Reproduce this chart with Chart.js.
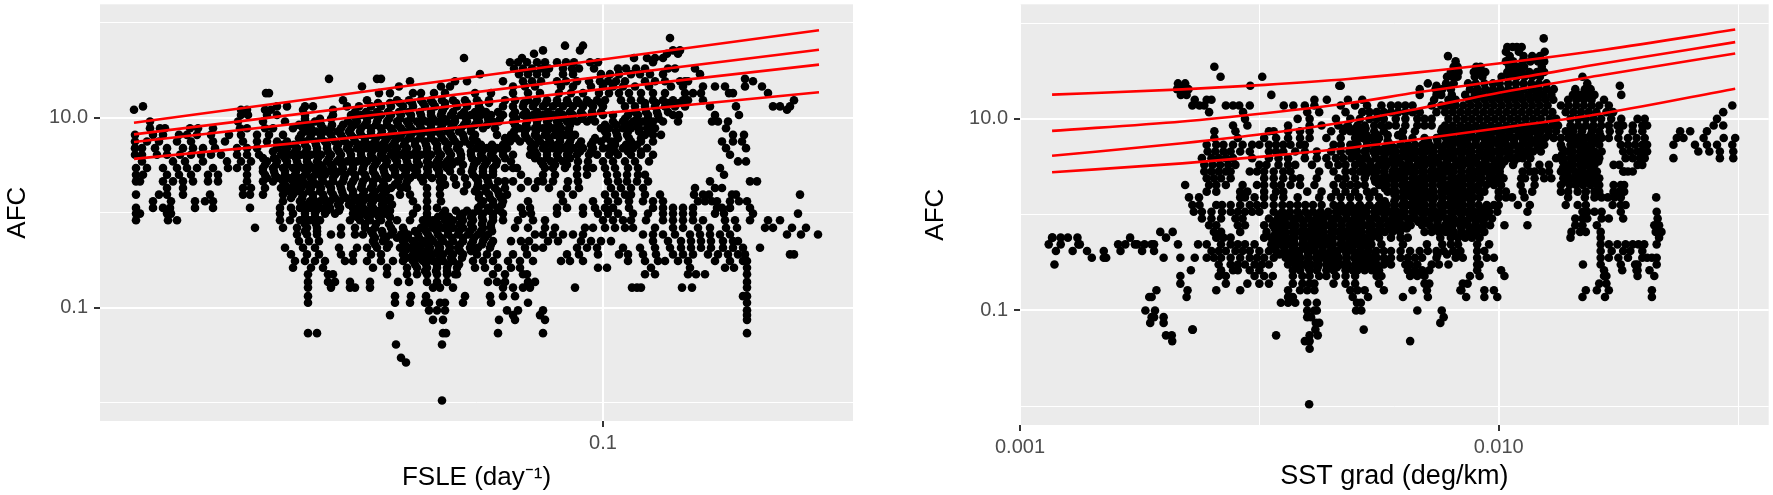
<!DOCTYPE html>
<html lang="en">
<head>
<meta charset="UTF-8">
<title>AFC vs FSLE and SST gradient</title>
<script src="https://cdn.jsdelivr.net/npm/chart.js"></script>
<style>
    body { margin: 0; background: #fff; overflow: hidden; }
    canvas { position: absolute; top: 0; }
    #fsleChart { left: 0; }
    #sstChart { left: 886px; }
</style>
</head>
<body>
<canvas id="fsleChart" width="886" height="495"></canvas>
<canvas id="sstChart" width="887" height="495"></canvas>
<script>
// values, kept as log10 because both axes are log
// each row: [log10 AFC, [log10 x, ...]]
const fsleRows = [
[1.84,[-.933]],[1.76,[-1.038,-1.020]],[1.71,[-1.060,-1.023,-.923,-.930]],[1.675,[-1.069,-.936,-.925]],
[1.63,[-1.139,-1.081,-.969,-.956,-.948,-.940]],
[1.585,[-1.093,-1.085,-1.076,-1.066,-1.058,-1.046,-1.037,-1.029,-1.013,-1.005,-.950]],
[1.52,[-1.089,-1.080,-1.071,-1.062,-1.054,-1.040,-1.031,-1.024,-1.009,-.985,-.977,-.967,-.958,-.935,-.928,-.908]],
[1.46,[-1.123,-1.084,-1.075,-1.066,-1.057,-1.040,-1.030,-1.002,-.993,-.984,-.972,-.963,-.953,-.940,-.903]],
[1.41,[-1.274,-1.226,-1.222,-.858]],
[1.385,[-1.148,-1.136,-1.100,-1.193,-1.080,-1.071,-1.062,-1.046,-1.037,-1.026,-1.014,-1.003,-.995,-.987,-.978,-.958,-.948,-.938,-.923,-.915,-.918,-.850]],
[1.33,[-1.241,-1.204,-1.162,-1.153,-1.090,-1.078,-1.068,-1.042,-1.030,-1.012,-1.000,-.990,-.980,-.968,-.954,-.932,-.920,-.900,-.888,-.878,-.858,-.841]],
[1.26,[-1.337,-1.334,-1.213,-1.224,-1.190,-1.182,-1.169,-1.158,-1.128,-1.112,-1.090,-1.075,-1.063,-1.044,-1.032,-1.020,-1.004,-.994,-.984,-.974,-.962,-.950,-.938,-.918,-.910,-.902,-.870,-.874,-.835]],
[1.185,[-1.260,-1.236,-1.206,-1.194,-1.182,-1.172,-1.161,-1.150,-1.138,-1.126,-1.114,-1.098,-1.088,-1.075,-1.066,-1.056,-1.046,-1.036,-1.026,-1.016,-1.006,-.998,-.982,-.972,-.962,-.950,-.940,-.930,-.920,-.915,-.900,-.809]],
[1.12,[-1.460,-1.326,-1.316,-1.298,-1.290,-1.256,-1.244,-1.232,-1.222,-1.212,-1.200,-1.190,-1.178,-1.168,-1.158,-1.146,-1.136,-1.124,-1.100,-1.090,-1.080,-1.070,-1.060,-1.050,-1.040,-1.030,-1.020,-1.010,-1.000,-.978,-.968,-.958,-.948,-.938,-.928,-.918,-.893,-.867,-.830,-.823,-.813]],
[1.085,[-1.469,-1.362,-1.356,-1.338,-1.332,-1.300,-1.270,-1.160,-1.122,-.816]],
[1.03,[-1.362,-1.355,-1.336,-1.326,-1.298,-1.270,-1.252,-1.242,-1.232,-1.222,-1.212,-1.202,-1.192,-1.182,-1.172,-1.162,-1.152,-1.142,-1.132,-1.122,-1.112,-1.100,-1.090,-1.080,-1.070,-1.060,-1.050,-1.040,-1.030,-1.020,-1.010,-1.000,-.990,-.975,-.965,-.955,-.945,-.930,-.924,-.864,-.888]],
[.96,[-1.453,-1.365,-1.340,-1.318,-1.298,-1.288,-1.255,-1.246,-1.236,-1.226,-1.216,-1.206,-1.196,-1.186,-1.176,-1.166,-1.156,-1.148,-1.136,-1.124,-1.110,-1.104,-1.090,-1.076,-1.066,-1.056,-1.046,-1.036,-1.026,-1.016,-1.008,-.990,-.980,-.970,-.960,-.950,-.940,-.925,-.891,-.885,-.875]],
[.89,[-1.453,-1.443,-1.438,-1.413,-1.405,-1.390,-1.363,-1.356,-1.338,-1.330,-1.310,-1.300,-1.292,-1.280,-1.272,-1.262,-1.252,-1.242,-1.232,-1.222,-1.212,-1.202,-1.192,-1.182,-1.172,-1.162,-1.152,-1.142,-1.132,-1.120,-1.108,-1.084,-1.076,-1.068,-1.060,-1.050,-1.042,-1.034,-1.002,-.994,-.980,-.972,-.964,-.956,-.948,-.877]],
[.82,[-1.468,-1.450,-1.440,-1.424,-1.416,-1.406,-1.392,-1.374,-1.362,-1.346,-1.334,-1.320,-1.302,-1.292,-1.282,-1.272,-1.262,-1.252,-1.242,-1.232,-1.222,-1.212,-1.202,-1.192,-1.182,-1.172,-1.162,-1.152,-1.140,-1.128,-1.106,-1.092,-1.078,-1.068,-1.058,-1.048,-1.038,-1.028,-.996,-.986,-.976,-.958,-.950,-.942,-.859,-.870]],
[.75,[-1.468,-1.456,-1.444,-1.426,-1.412,-1.390,-1.378,-1.360,-1.346,-1.336,-1.326,-1.316,-1.298,-1.288,-1.278,-1.268,-1.258,-1.248,-1.238,-1.228,-1.218,-1.208,-1.198,-1.188,-1.178,-1.168,-1.158,-1.148,-1.138,-1.126,-1.093,-1.083,-1.073,-1.063,-1.053,-1.043,-1.033,-1.022,-1.010,-1.002,-.992,-.988,-.972,-.962,-.950,-.881,-.870,-.861]],
[.68,[-1.468,-1.461,-1.448,-1.436,-1.420,-1.410,-1.400,-1.388,-1.366,-1.356,-1.346,-1.326,-1.316,-1.306,-1.296,-1.286,-1.276,-1.266,-1.256,-1.246,-1.236,-1.226,-1.216,-1.206,-1.196,-1.186,-1.176,-1.166,-1.156,-1.146,-1.126,-1.116,-1.106,-1.096,-1.072,-1.060,-1.050,-1.040,-1.030,-1.020,-1.010,-1.000,-.994,-.980,-.970,-.956,-.877,-.857]],
[.61,[-1.468,-1.461,-1.446,-1.436,-1.423,-1.412,-1.402,-1.392,-1.382,-1.366,-1.356,-1.344,-1.322,-1.312,-1.302,-1.292,-1.282,-1.272,-1.262,-1.252,-1.242,-1.232,-1.222,-1.212,-1.202,-1.192,-1.182,-1.172,-1.162,-1.152,-1.142,-1.132,-1.122,-1.112,-1.100,-1.090,-1.073,-1.066,-1.056,-1.046,-1.036,-1.026,-1.014,-1.006,-.994,-.985,-.972,-.962,-.950,-.873]],
[.54,[-1.461,-1.430,-1.418,-1.400,-1.376,-1.362,-1.352,-1.336,-1.326,-1.316,-1.306,-1.296,-1.286,-1.276,-1.266,-1.256,-1.246,-1.236,-1.226,-1.216,-1.206,-1.196,-1.186,-1.176,-1.166,-1.156,-1.146,-1.126,-1.116,-1.106,-1.092,-1.062,-1.052,-1.040,-1.025,-1.015,-1.000,-.990,-.978,-.968,-.954,-.865,-.857]],
[.47,[-1.467,-1.456,-1.440,-1.426,-1.416,-1.406,-1.390,-1.375,-1.366,-1.356,-1.340,-1.330,-1.320,-1.310,-1.300,-1.290,-1.280,-1.270,-1.260,-1.250,-1.240,-1.230,-1.220,-1.210,-1.200,-1.190,-1.176,-1.166,-1.156,-1.130,-1.120,-1.110,-1.098,-1.090,-1.086,-1.058,-1.050,-1.038,-1.026,-1.016,-1.010,-.998,-.988,-.975,-.965,-.883]],
[.40,[-1.467,-1.460,-1.436,-1.424,-1.412,-1.395,-1.385,-1.356,-1.338,-1.328,-1.318,-1.308,-1.298,-1.288,-1.278,-1.268,-1.258,-1.248,-1.238,-1.228,-1.218,-1.208,-1.198,-1.188,-1.176,-1.164,-1.130,-1.120,-1.110,-1.082,-1.060,-1.048,-1.026,-1.016,-.996,-.986,-.976,-.965,-.958,-.879]],
[.33,[-1.467,-1.463,-1.440,-1.430,-1.420,-1.410,-1.395,-1.385,-1.356,-1.340,-1.330,-1.320,-1.310,-1.300,-1.290,-1.280,-1.270,-1.260,-1.250,-1.240,-1.230,-1.220,-1.205,-1.196,-1.180,-1.163,-1.125,-1.115,-1.105,-1.098,-1.090,-1.075,-1.065,-1.060,-1.050,-1.035,-1.025,-.995,-.985,-.976,-.966,-.955,-.853,-.846,-.893]],
[.26,[-1.436,-1.420,-1.360,-1.352,-1.338,-1.322,-1.312,-1.302,-1.292,-1.282,-1.272,-1.262,-1.252,-1.242,-1.232,-1.222,-1.212,-1.202,-1.196,-1.176,-1.163,-1.126,-1.118,-1.108,-1.098,-1.082,-1.068,-1.054,-1.036,-1.024,-.992,-.982,-.972,-.960,-.908,-.888,-.881]],
[.19,[-1.467,-1.444,-1.436,-1.420,-1.393,-1.360,-1.353,-1.340,-1.320,-1.310,-1.300,-1.290,-1.280,-1.270,-1.260,-1.250,-1.240,-1.230,-1.220,-1.203,-1.193,-1.176,-1.163,-1.124,-1.114,-1.104,-1.096,-1.042,-1.030,-.998,-.988,-.978,-.972,-.958,-.943,-.900,-.909,-.871,-.867,-.803,-.894]],
[.12,[-1.450,-1.432,-1.408,-1.398,-1.390,-1.320,-1.303,-1.293,-1.283,-1.273,-1.263,-1.250,-1.240,-1.230,-1.218,-1.190,-1.176,-1.162,-1.120,-1.110,-1.100,-1.075,-1.040,-1.010,-.995,-.985,-.974,-.960,-.950,-.940,-.905,-.891,-.873,-.864,-.856,-.898,-.886]],
[.05,[-1.467,-1.450,-1.440,-1.433,-1.408,-1.390,-1.353,-1.323,-1.312,-1.303,-1.293,-1.283,-1.273,-1.263,-1.250,-1.240,-1.230,-1.218,-1.186,-1.176,-1.166,-1.125,-1.115,-1.105,-1.082,-1.073,-1.046,-1.036,-1.020,-1.008,-.998,-.990,-.974,-.950,-.940,-.930,-.920,-.910,-.886,-.881,-.873,-.853]],
[-.01,[-1.467,-1.463,-1.436,-1.432,-1.323,-1.310,-1.298,-1.288,-1.278,-1.268,-1.250,-1.240,-1.230,-1.218,-1.190,-1.176,-1.160,-1.140,-1.130,-1.120,-1.110,-1.100,-1.080,-1.072,-1.046,-1.020,-1.005,-.995,-.985,-.970,-.955,-.940,-.930,-.920,-.910,-.888,-.879,-.850,-.805]],
[-.08,[-1.467,-1.435,-1.426,-1.323,-1.313,-1.303,-1.293,-1.283,-1.253,-1.243,-1.233,-1.222,-1.206,-1.193,-1.180,-1.170,-1.158,-1.150,-1.140,-1.130,-1.120,-1.110,-1.100,-1.085,-1.070,-1.058,-1.000,-.990,-.980,-.972,-.957,-.940,-.930,-.920,-.910,-.900,-.878,-.868,-.853,-.835,-.823]],
[-.16,[-1.348,-1.320,-1.306,-1.296,-1.286,-1.262,-1.248,-1.238,-1.228,-1.212,-1.200,-1.182,-1.170,-1.160,-1.150,-1.140,-1.130,-1.120,-1.112,-1.088,-1.075,-1.058,-1.048,-1.018,-1.010,-.998,-.988,-.978,-.970,-.948,-.930,-.920,-.905,-.893,-.877,-.866,-.838,-.830,-.811,-.797]],
[-.23,[-1.306,-1.296,-1.286,-1.272,-1.262,-1.248,-1.240,-1.230,-1.220,-1.212,-1.202,-1.195,-1.185,-1.175,-1.165,-1.155,-1.145,-1.135,-1.125,-1.115,-1.068,-1.060,-1.050,-1.040,-1.030,-1.020,-.960,-.950,-.940,-.928,-.913,-.903,-.893,-.883,-.873,-.816,-.802,-.785]],
[-.30,[-1.304,-1.294,-1.284,-1.230,-1.220,-1.200,-1.190,-1.180,-1.170,-1.160,-1.150,-1.140,-1.130,-1.120,-1.110,-1.092,-1.082,-1.074,-1.055,-1.045,-1.022,-1.012,-1.002,-.992,-.950,-.935,-.922,-.912,-.902,-.892,-.880,-.870,-.865]],
[-.37,[-1.318,-1.300,-1.288,-1.264,-1.246,-1.236,-1.226,-1.216,-1.203,-1.193,-1.183,-1.173,-1.163,-1.153,-1.145,-1.133,-1.125,-1.113,-1.078,-1.068,-1.060,-1.026,-1.016,-1.006,-.980,-.963,-.948,-.933,-.922,-.912,-.902,-.892,-.880,-.870,-.860,-.843]],
[-.44,[-1.312,-1.296,-1.284,-1.262,-1.250,-1.232,-1.222,-1.200,-1.190,-1.180,-1.170,-1.160,-1.150,-1.140,-1.126,-1.116,-1.106,-1.090,-1.076,-1.036,-1.024,-1.005,-.984,-.975,-.960,-.947,-.930,-.920,-.910,-.895,-.885,-.875,-.865,-.813,-.809,-.858]],
[-.51,[-1.308,-1.298,-1.288,-1.278,-1.258,-1.250,-1.236,-1.222,-1.210,-1.200,-1.190,-1.180,-1.170,-1.160,-1.150,-1.130,-1.120,-1.110,-1.095,-1.083,-1.070,-1.042,-1.033,-1.020,-.975,-.958,-.945,-.938,-.925,-.915,-.888,-.873,-.860,-.856]],
[-.58,[-1.310,-1.292,-1.280,-1.230,-1.216,-1.196,-1.186,-1.176,-1.166,-1.156,-1.146,-1.128,-1.118,-1.105,-1.092,-1.083,-1.005,-.996,-.952,-.913,-.878,-.869,-.856]],
[-.65,[-1.295,-1.275,-1.270,-1.216,-1.196,-1.186,-1.176,-1.166,-1.156,-1.146,-1.148,-1.110,-1.098,-1.080,-1.076,-.958,-.948,-.915,-.898,-.856,-.907]],
[-.73,[-1.295,-1.275,-1.268,-1.253,-1.233,-1.205,-1.194,-1.176,-1.166,-1.156,-1.115,-1.106,-1.098,-1.075,-1.068,-.856]],
[-.79,[-1.295,-1.272,-1.253,-1.248,-1.233,-1.170,-1.163,-1.150,-1.100,-1.090,-1.080,-1.073,-1.028,-.966,-.962,-.971,-.921,-.911,-.856]],
[-.88,[-1.295,-1.208,-1.192,-1.177,-1.138,-1.113,-1.100,-1.088,-.856,-.860]],
[-.95,[-1.295,-1.208,-1.193,-1.178,-1.174,-1.163,-1.158,-1.140,-1.112,-1.075,-.856]],
[-1.03,[-1.174,-1.166,-1.158,-1.096,-1.085,-1.060,-.856]],
[-1.08,[-1.213,-1.090,-1.063,-.856]],
[-1.13,[-1.170,-1.160,-1.104,-1.088,-.856,-1.058]],
[-1.27,[-1.295,-1.286,-1.160,-1.157,-1.105,-1.060,-.856]],
[-1.39,[-1.207,-1.161]],[-1.53,[-1.202]],[-1.58,[-1.197]],[-1.98,[-1.161]],
// denser middle of the cloud
[1.155,[-1.225,-1.213,-1.203,-1.191,-1.180,-1.170,-1.158,-1.147,-1.136,-1.124,-1.114,-1.079,-1.068,-1.057,-1.046,-1.035,-1.024,-1.013,-1.002,-.958,-.947,-.935,-.924]],
[1.06,[-1.248,-1.237,-1.226,-1.215,-1.204,-1.194,-1.183,-1.172,-1.161,-1.150,-1.139,-1.128,-1.117,-1.105,-1.088,-1.077,-1.066,-1.055,-1.044,-1.033,-1.022,-1.011,-1.002,-.968,-.957,-.946,-.935]],
[.99,[-1.298,-1.283,-1.272,-1.247,-1.236,-1.225,-1.214,-1.203,-1.192,-1.181,-1.170,-1.159,-1.148,-1.137,-1.126,-1.115,-1.103,-1.087,-1.076,-1.065,-1.054,-1.043,-1.032,-1.021,-1.012,-.978,-.966,-.955,-.944]],
[.925,[-1.304,-1.293,-1.282,-1.271,-1.260,-1.249,-1.238,-1.227,-1.216,-1.205,-1.194,-1.183,-1.172,-1.161,-1.150,-1.139,-1.128,-1.116,-1.088,-1.077,-1.066,-1.055,-1.044,-1.033,-.998,-.987,-.976,-.965,-.954]],
[.855,[-1.298,-1.287,-1.276,-1.265,-1.254,-1.243,-1.232,-1.221,-1.210,-1.199,-1.188,-1.177,-1.166,-1.155,-1.144,-1.132,-1.089,-1.078,-1.067,-1.056,-1.045,-1.034,-.998,-.987,-.975,-.964,-.952]],
[.785,[-1.304,-1.293,-1.282,-1.271,-1.260,-1.249,-1.238,-1.227,-1.216,-1.205,-1.194,-1.183,-1.172,-1.161,-1.150,-1.139,-1.130,-1.098,-1.087,-1.076,-1.065,-1.054,-1.043,-1.032,-1.008,-.997,-.985,-.974,-.962]],
[.715,[-1.320,-1.309,-1.298,-1.287,-1.276,-1.265,-1.254,-1.243,-1.232,-1.221,-1.210,-1.199,-1.188,-1.177,-1.166,-1.155,-1.144,-1.133,-1.122,-1.111,-1.100,-1.068,-1.057,-1.046,-1.035,-1.024,-1.012,-.988,-.977,-.966]],
[.645,[-1.330,-1.319,-1.308,-1.297,-1.286,-1.275,-1.264,-1.253,-1.242,-1.231,-1.220,-1.209,-1.198,-1.187,-1.176,-1.165,-1.154,-1.143,-1.132,-1.121,-1.110,-1.100,-1.068,-1.056,-1.045,-1.034,-1.023,-1.012,-.988,-.975,-.962]],
[.575,[-1.340,-1.329,-1.318,-1.307,-1.296,-1.285,-1.274,-1.263,-1.252,-1.241,-1.230,-1.219,-1.208,-1.197,-1.186,-1.175,-1.164,-1.153,-1.142,-1.131,-1.120,-1.109,-1.098,-1.068,-1.056,-1.045,-1.033]],
[.505,[-1.338,-1.327,-1.316,-1.305,-1.294,-1.283,-1.272,-1.261,-1.250,-1.239,-1.228,-1.217,-1.206,-1.195,-1.184,-1.173,-1.162,-1.151,-1.140,-1.129,-1.118,-1.107,-1.060,-1.048,-1.036]],
[.435,[-1.340,-1.329,-1.318,-1.307,-1.296,-1.285,-1.274,-1.263,-1.252,-1.241,-1.230,-1.219,-1.208,-1.197,-1.186,-1.175,-1.164,-1.153,-1.142,-1.131,-1.120,-1.110]],
[.365,[-1.336,-1.325,-1.314,-1.303,-1.292,-1.281,-1.270,-1.259,-1.248,-1.237,-1.226,-1.215,-1.204,-1.193,-1.182,-1.171,-1.160,-1.149,-1.138,-1.127,-1.116]],
[.295,[-1.318,-1.307,-1.296,-1.285,-1.274,-1.263,-1.252,-1.241,-1.230,-1.219,-1.208,-1.197,-1.158,-1.147,-1.136,-1.125,-1.114]],
[.225,[-1.316,-1.305,-1.294,-1.283,-1.272,-1.261,-1.250,-1.239,-1.228,-1.217,-1.139,-1.128,-1.117,-1.105]],
[.155,[-1.312,-1.301,-1.290,-1.279,-1.268,-1.257,-1.246,-1.235,-1.224,-1.213,-1.124,-1.113,-1.102]],
[.085,[-1.298,-1.287,-1.276,-1.265,-1.254,-1.243,-1.232,-1.221,-1.211,-1.122,-1.110,-1.101]],
[.02,[-1.298,-1.287,-1.276,-1.264,-1.246,-1.235,-1.224,-1.213,-1.158,-1.147,-1.136,-1.125,-1.114,-1.103]],
[-.045,[-1.298,-1.288,-1.246,-1.235,-1.224,-1.213,-1.176,-1.165,-1.154,-1.143,-1.132,-1.121,-1.110]],
[-.12,[-1.298,-1.287,-1.238,-1.227,-1.214,-1.176,-1.165,-1.154,-1.143,-1.132,-1.121,-1.112]],
[-.195,[-1.298,-1.286,-1.232,-1.221,-1.210,-1.199,-1.188,-1.177,-1.166,-1.155,-1.144,-1.133,-1.122,-1.111]],
[-.265,[-1.228,-1.217,-1.206,-1.195,-1.184,-1.173,-1.162,-1.151,-1.140,-1.129,-1.118]],
[-.335,[-1.228,-1.214,-1.198,-1.187,-1.176,-1.165,-1.154,-1.143,-1.132,-1.121,-1.112]],
[-.405,[-1.198,-1.187,-1.176,-1.165,-1.154,-1.143,-1.132]],
[-.475,[-1.196,-1.185,-1.174,-1.163,-1.152,-1.141]],
[-.545,[-1.188,-1.177,-1.166,-1.155,-1.144]],
[-.615,[-1.178,-1.167,-1.156]]
];

const sstRows = [
[1.84,[-1.906]],[1.75,[-1.971,-1.982,-1.962,-1.952]],[1.70,[-1.904,-1.985,-1.958]],[1.655,[-2.106,-1.977,-1.948,-1.930,-1.914]],
[1.60,[-2.090,-1.985,-1.970,-1.950,-1.934,-1.918,-1.905]],
[1.544,[-2.594,-2.047,-2.038,-2.094,-2.086,-1.978,-1.962,-1.947,-1.910]],
[1.49,[-2.100,-2.084,-2.052,-2.042,-2.028,-1.982,-1.968,-1.952,-1.936,-1.920,-1.905]],
[1.44,[-2.581,-2.494,-2.108,-2.096,-2.086,-2.050,-2.034,-1.994,-1.978,-1.962,-1.946,-1.930,-1.914,-1.825]],
[1.37,[-2.670,-2.655,-2.148,-2.110,-2.094,-2.064,-2.048,-2.030,-2.012,-1.998,-1.980,-1.964,-1.948,-1.932,-1.916,-1.900,-1.815]],
[1.345,[-2.519,-2.333,-2.330,-2.130,-1.747]],
[1.31,[-2.672,-2.660,-2.648,-2.165,-2.132,-2.118,-2.100,-2.060,-2.044,-2.028,-2.012,-1.996,-1.980,-1.964,-1.948,-1.932,-1.916,-1.900,-1.885,-1.840,-1.820,-1.808]],
[1.25,[-2.664,-2.652,-2.475,-2.165,-2.130,-2.120,-2.098,-2.070,-2.050,-2.035,-2.018,-2.002,-1.986,-1.970,-1.954,-1.938,-1.922,-1.906,-1.890,-1.845,-1.830,-1.815,-1.800,-1.744]],
[1.20,[-2.635,-2.610,-2.600,-2.385,-2.359,-2.315,-2.285,-2.135,-2.105,-2.090,-2.062,-2.046,-2.030,-2.014,-1.998,-1.982,-1.966,-1.950,-1.934,-1.918,-1.902,-1.886,-1.855,-1.838,-1.822,-1.806,-1.780]],
[1.14,[-2.640,-2.625,-2.615,-2.570,-2.555,-2.542,-2.520,-2.449,-2.429,-2.405,-2.385,-2.330,-2.300,-2.275,-2.245,-2.225,-2.210,-2.195,-2.180,-2.140,-2.120,-2.105,-2.090,-2.074,-2.058,-2.042,-2.026,-2.010,-1.994,-1.978,-1.962,-1.946,-1.930,-1.914,-1.898,-1.870,-1.854,-1.838,-1.822,-1.806,-1.790,-1.770,-1.512]],
[1.07,[-2.605,-2.534,-2.400,-2.375,-2.320,-2.285,-2.270,-2.255,-2.240,-2.225,-2.210,-2.195,-2.180,-2.165,-2.130,-2.112,-2.096,-2.080,-2.064,-2.048,-2.032,-2.016,-2.000,-1.984,-1.968,-1.952,-1.936,-1.920,-1.904,-1.888,-1.860,-1.844,-1.828,-1.812,-1.796,-1.775,-1.761,-1.531]],
[1.00,[-2.530,-2.420,-2.395,-2.340,-2.310,-2.290,-2.270,-2.255,-2.240,-2.215,-2.195,-2.170,-2.155,-2.140,-2.105,-2.088,-2.072,-2.056,-2.040,-2.024,-2.008,-1.992,-1.976,-1.960,-1.944,-1.928,-1.912,-1.894,-1.880,-1.850,-1.834,-1.818,-1.802,-1.786,-1.765,-1.744,-1.710,-1.695,-1.544]],
[.93,[-2.555,-2.525,-2.440,-2.395,-2.370,-2.335,-2.315,-2.295,-2.280,-2.260,-2.245,-2.230,-2.215,-2.195,-2.170,-2.155,-2.140,-2.112,-2.096,-2.080,-2.064,-2.048,-2.032,-2.016,-2.000,-1.984,-1.968,-1.952,-1.936,-1.920,-1.904,-1.888,-1.876,-1.850,-1.834,-1.818,-1.802,-1.786,-1.770,-1.752,-1.740,-1.720,-1.700,-1.690,-1.551,-1.531]],
[.87,[-2.594,-2.550,-2.480,-2.470,-2.440,-2.415,-2.395,-2.350,-2.325,-2.310,-2.296,-2.285,-2.260,-2.240,-2.200,-2.175,-2.120,-2.104,-2.088,-2.072,-2.056,-2.040,-2.024,-2.008,-1.992,-1.976,-1.960,-1.944,-1.928,-1.912,-1.896,-1.880,-1.860,-1.844,-1.826,-1.805,-1.790,-1.768,-1.748,-1.720,-1.700,-1.621,-1.600,-1.565]],
[.80,[-2.594,-2.545,-2.490,-2.465,-2.440,-2.415,-2.395,-2.360,-2.330,-2.300,-2.285,-2.265,-2.250,-2.200,-2.180,-2.155,-2.130,-2.110,-2.095,-2.079,-2.063,-2.047,-2.031,-2.015,-1.999,-1.983,-1.967,-1.951,-1.935,-1.919,-1.903,-1.885,-1.870,-1.855,-1.835,-1.818,-1.800,-1.785,-1.770,-1.750,-1.730,-1.712,-1.695,-1.628,-1.614,-1.572,-1.506,-1.530]],
[.73,[-2.610,-2.590,-2.575,-2.555,-2.535,-2.515,-2.500,-2.480,-2.465,-2.450,-2.435,-2.415,-2.405,-2.345,-2.330,-2.310,-2.295,-2.275,-2.260,-2.225,-2.205,-2.190,-2.175,-2.160,-2.145,-2.128,-2.112,-2.096,-2.080,-2.064,-2.048,-2.032,-2.016,-2.000,-1.984,-1.968,-1.952,-1.936,-1.920,-1.905,-1.870,-1.850,-1.835,-1.820,-1.805,-1.790,-1.745,-1.730,-1.715,-1.700,-1.690,-1.635,-1.590,-1.565,-1.544,-1.512]],
[.66,[-2.608,-2.592,-2.575,-2.560,-2.540,-2.520,-2.480,-2.465,-2.450,-2.425,-2.405,-2.380,-2.350,-2.330,-2.312,-2.296,-2.280,-2.262,-2.245,-2.230,-2.215,-2.200,-2.184,-2.168,-2.152,-2.136,-2.120,-2.104,-2.088,-2.072,-2.056,-2.040,-2.024,-2.008,-1.992,-1.976,-1.960,-1.944,-1.928,-1.912,-1.860,-1.845,-1.830,-1.815,-1.800,-1.785,-1.740,-1.725,-1.710,-1.700,-1.690,-1.583,-1.560,-1.538,-1.510]],
[.59,[-2.620,-2.600,-2.585,-2.570,-2.555,-2.515,-2.480,-2.460,-2.440,-2.405,-2.380,-2.360,-2.340,-2.325,-2.308,-2.292,-2.276,-2.256,-2.240,-2.222,-2.206,-2.190,-2.174,-2.158,-2.142,-2.126,-2.110,-2.094,-2.078,-2.062,-2.046,-2.030,-2.014,-1.998,-1.982,-1.966,-1.950,-1.934,-1.960,-1.880,-1.865,-1.850,-1.835,-1.820,-1.805,-1.790,-1.735,-1.720,-1.705,-1.695,-1.635,-1.538,-1.510]],
[.52,[-2.615,-2.598,-2.582,-2.565,-2.550,-2.500,-2.485,-2.460,-2.440,-2.425,-2.390,-2.355,-2.335,-2.320,-2.300,-2.285,-2.268,-2.250,-2.234,-2.218,-2.202,-2.186,-2.170,-2.154,-2.138,-2.122,-2.106,-2.090,-2.074,-2.058,-2.042,-2.026,-2.010,-1.994,-1.970,-1.940,-1.915,-1.895,-1.860,-1.845,-1.830,-1.815,-1.800,-1.760,-1.748,-1.710,-1.700]],
[.45,[-2.615,-2.600,-2.585,-2.570,-2.560,-2.520,-2.505,-2.490,-2.470,-2.450,-2.435,-2.375,-2.345,-2.320,-2.305,-2.290,-2.270,-2.255,-2.240,-2.222,-2.206,-2.190,-2.174,-2.158,-2.142,-2.126,-2.110,-2.094,-2.078,-2.062,-2.046,-2.030,-2.012,-1.998,-1.950,-1.935,-1.925,-1.910,-1.895,-1.870,-1.855,-1.840,-1.825,-1.810,-1.795,-1.740,-1.730,-1.720,-1.738]],
[.38,[-2.610,-2.595,-2.580,-2.560,-2.490,-2.470,-2.450,-2.430,-2.415,-2.380,-2.335,-2.320,-2.300,-2.280,-2.260,-2.244,-2.228,-2.212,-2.196,-2.180,-2.164,-2.148,-2.132,-2.116,-2.100,-2.084,-2.068,-2.052,-2.036,-2.020,-2.004,-1.990,-1.953,-1.945,-1.925,-1.905,-1.890,-1.865,-1.848,-1.832,-1.816,-1.800,-1.790]],
[.31,[-2.655,-2.605,-2.590,-2.570,-2.535,-2.505,-2.490,-2.470,-2.455,-2.435,-2.415,-2.385,-2.345,-2.325,-2.310,-2.295,-2.280,-2.250,-2.234,-2.218,-2.202,-2.186,-2.170,-2.154,-2.138,-2.122,-2.106,-2.090,-2.074,-2.058,-2.042,-2.026,-2.010,-1.995,-1.954,-1.925,-1.870,-1.852,-1.838,-1.824,-1.808,-1.794,-1.790,-1.760,-1.745,-1.738]],
[.24,[-2.610,-2.590,-2.540,-2.525,-2.490,-2.465,-2.450,-2.400,-2.370,-2.340,-2.320,-2.300,-2.275,-2.260,-2.232,-2.216,-2.200,-2.184,-2.168,-2.152,-2.136,-2.120,-2.104,-2.088,-2.072,-2.056,-2.040,-2.030,-2.000,-1.985,-1.950,-1.930,-1.870,-1.855,-1.835,-1.818,-1.800,-1.790,-1.760,-1.748,-1.738]],
[.18,[-2.647,-2.626,-2.540,-2.530,-2.510,-2.490,-2.470,-2.450,-2.420,-2.375,-2.350,-2.330,-2.310,-2.292,-2.270,-2.250,-2.214,-2.198,-2.182,-2.166,-2.150,-2.134,-2.118,-2.102,-2.086,-2.070,-2.054,-2.040,-2.000,-1.985,-1.972,-1.946,-1.855,-1.820,-1.800,-1.785,-1.772,-1.758,-1.745,-1.671]],
[.10,[-2.640,-2.625,-2.590,-2.578,-2.560,-2.540,-2.520,-2.505,-2.490,-2.470,-2.452,-2.436,-2.420,-2.404,-2.388,-2.370,-2.345,-2.330,-2.310,-2.290,-2.270,-2.250,-2.234,-2.218,-2.202,-2.186,-2.170,-2.154,-2.138,-2.122,-2.106,-2.090,-2.074,-2.058,-2.042,-2.025,-2.010,-2.000,-1.960,-1.935,-1.860,-1.835,-1.818,-1.762,-1.745,-1.735]],
[.03,[-2.637,-2.620,-2.600,-2.578,-2.560,-2.545,-2.530,-2.515,-2.500,-2.470,-2.452,-2.436,-2.420,-2.404,-2.388,-2.372,-2.356,-2.340,-2.324,-2.308,-2.292,-2.276,-2.260,-2.244,-2.228,-2.212,-2.196,-2.180,-2.164,-2.148,-2.132,-2.116,-2.100,-2.084,-2.068,-2.052,-2.036,-2.020,-2.003,-1.940,-1.825,-1.815,-1.800,-1.785,-1.745,-1.670]],
[-.04,[-2.620,-2.600,-2.580,-2.550,-2.535,-2.480,-2.462,-2.446,-2.430,-2.414,-2.398,-2.382,-2.366,-2.350,-2.334,-2.318,-2.302,-2.286,-2.270,-2.254,-2.238,-2.222,-2.206,-2.190,-2.174,-2.158,-2.142,-2.126,-2.110,-2.094,-2.078,-2.062,-2.046,-2.030,-2.014,-1.840,-1.825,-1.815,-1.785,-1.770,-1.740,-1.668]],
[-.11,[-2.605,-2.590,-2.545,-2.530,-2.490,-2.472,-2.456,-2.440,-2.424,-2.408,-2.392,-2.376,-2.360,-2.344,-2.328,-2.312,-2.296,-2.280,-2.264,-2.248,-2.232,-2.216,-2.200,-2.184,-2.160,-2.144,-2.128,-2.112,-2.096,-2.080,-2.064,-2.048,-2.032,-2.018,-1.988,-1.940,-1.840,-1.825,-1.795,-1.675,-1.665]],
[-.18,[-2.681,-2.707,-2.595,-2.580,-2.540,-2.485,-2.462,-2.446,-2.430,-2.414,-2.398,-2.382,-2.366,-2.350,-2.334,-2.318,-2.302,-2.286,-2.270,-2.254,-2.238,-2.222,-2.206,-2.155,-2.140,-2.125,-2.110,-2.094,-2.078,-2.062,-2.046,-2.030,-1.848,-1.830,-1.818,-1.787,-1.672,-1.660]],
[-.24,[-2.933,-2.932,-2.915,-2.900,-2.880,-2.770,-2.695,-2.590,-2.575,-2.560,-2.490,-2.475,-2.458,-2.442,-2.426,-2.410,-2.394,-2.378,-2.362,-2.346,-2.330,-2.314,-2.298,-2.282,-2.266,-2.250,-2.225,-2.205,-2.190,-2.122,-2.100,-2.085,-2.070,-2.056,-2.040,-1.850,-1.787,-1.665]],
[-.31,[-2.940,-2.915,-2.878,-2.875,-2.795,-2.780,-2.760,-2.755,-2.740,-2.725,-2.720,-2.670,-2.628,-2.610,-2.580,-2.560,-2.545,-2.530,-2.510,-2.475,-2.458,-2.442,-2.426,-2.410,-2.394,-2.378,-2.362,-2.346,-2.330,-2.314,-2.298,-2.282,-2.266,-2.245,-2.200,-2.150,-2.118,-2.100,-2.085,-2.045,-2.020,-1.787,-1.770,-1.752,-1.735,-1.720,-1.708,-1.696,-1.670]],
[-.38,[-2.925,-2.890,-2.860,-2.825,-2.790,-2.745,-2.720,-2.600,-2.585,-2.570,-2.550,-2.535,-2.520,-2.500,-2.480,-2.465,-2.448,-2.432,-2.416,-2.400,-2.384,-2.368,-2.352,-2.336,-2.320,-2.304,-2.288,-2.272,-2.256,-2.240,-2.225,-2.205,-2.185,-2.165,-2.148,-2.130,-2.115,-2.095,-2.080,-2.045,-2.030,-1.787,-1.764,-1.740,-1.725,-1.700]],
[-.45,[-2.850,-2.825,-2.820,-2.700,-2.665,-2.635,-2.610,-2.595,-2.580,-2.560,-2.540,-2.520,-2.505,-2.490,-2.470,-2.445,-2.430,-2.414,-2.398,-2.382,-2.366,-2.350,-2.334,-2.318,-2.302,-2.286,-2.270,-2.255,-2.240,-2.225,-2.205,-2.190,-2.175,-2.160,-2.130,-2.090,-2.075,-2.045,-2.025,-2.010,-1.787,-1.770,-1.750,-1.730,-1.700,-1.690,-1.680,-1.670]],
[-.52,[-2.928,-2.585,-2.560,-2.545,-2.530,-2.510,-2.495,-2.480,-2.440,-2.425,-2.408,-2.392,-2.376,-2.360,-2.345,-2.330,-2.315,-2.300,-2.285,-2.270,-2.255,-2.240,-2.225,-2.195,-2.185,-2.170,-2.140,-2.125,-2.105,-2.045,-2.040,-1.824,-1.787,-1.745,-1.715,-1.710,-1.670]],
[-.58,[-2.643,-2.580,-2.555,-2.545,-2.520,-2.500,-2.430,-2.415,-2.395,-2.380,-2.360,-2.345,-2.320,-2.305,-2.295,-2.280,-2.265,-2.250,-2.190,-2.175,-2.160,-2.145,-2.045,-1.995,-1.780,-1.742,-1.712,-1.685,-1.710]],
[-.64,[-2.665,-2.585,-2.570,-2.510,-2.490,-2.472,-2.430,-2.410,-2.395,-2.375,-2.360,-2.340,-2.320,-2.300,-2.255,-2.245,-2.185,-2.170,-2.155,-2.060,-2.040,-1.988,-1.780,-1.775,-1.710,-1.675]],
[-.72,[-2.665,-2.570,-2.525,-2.500,-2.480,-2.430,-2.410,-2.395,-2.385,-2.345,-2.320,-2.300,-2.250,-2.155,-2.145,-2.075,-2.065,-1.790,-1.775]],
[-.79,[-2.715,-2.650,-2.590,-2.540,-2.440,-2.415,-2.400,-2.385,-2.310,-2.295,-2.280,-2.240,-2.180,-2.150,-2.078,-2.080,-2.030,-2.010,-1.795,-1.770,-1.680,-1.818]],
[-.86,[-2.730,-2.725,-2.652,-2.440,-2.430,-2.305,-2.273,-2.200,-2.148,-2.068,-2.030,-2.003,-1.825,-1.778,-1.680]],
[-.92,[-2.455,-2.440,-2.425,-2.400,-2.380,-2.296,-2.288]],
[-1.0,[-2.718,-2.738,-2.400,-2.385,-2.380,-2.298,-2.287,-2.170,-2.119]],
[-1.07,[-2.725,-2.720,-2.700,-2.400,-2.392,-2.115]],[-1.13,[-2.728,-2.700,-2.375,-2.382,-2.122]],
[-1.20,[-2.639,-2.640,-2.383,-2.282]],[-1.26,[-2.695,-2.683,-2.465,-2.395,-2.378]],[-1.32,[-2.682,-2.405,-2.395,-2.185]],
[-1.40,[-2.395]],[-1.98,[-2.396]],
// denser middle of the cloud
[.90,[-2.322,-2.300,-2.278,-2.118,-2.098,-2.078,-2.058,-2.038,-2.018,-1.998,-1.978,-1.958,-1.938,-1.918,-1.898,-1.845,-1.825,-1.805]],
[.83,[-2.298,-2.276,-2.254,-2.232,-2.210,-2.118,-2.098,-2.078,-2.058,-2.038,-2.018,-1.998,-1.978,-1.958,-1.938,-1.918,-1.896,-1.848,-1.828,-1.808,-1.788]],
[.77,[-2.298,-2.276,-2.254,-2.232,-2.148,-2.128,-2.108,-2.088,-2.068,-2.048,-2.028,-2.008,-1.988,-1.968,-1.948,-1.928,-1.908,-1.846,-1.826,-1.806,-1.792]],
[.695,[-2.298,-2.276,-2.254,-2.238,-2.218,-2.198,-2.178,-2.158,-2.138,-2.118,-2.098,-2.078,-2.058,-2.038,-2.018,-1.998,-1.978,-1.958,-1.938,-1.918,-1.868,-1.848,-1.828,-1.808]],
[.625,[-2.298,-2.278,-2.258,-2.238,-2.218,-2.198,-2.178,-2.158,-2.138,-2.118,-2.098,-2.078,-2.058,-2.038,-2.018,-1.998,-1.978,-1.958,-1.938,-1.868,-1.848,-1.828,-1.808,-1.792]],
[.555,[-2.288,-2.268,-2.248,-2.228,-2.208,-2.188,-2.168,-2.148,-2.128,-2.108,-2.088,-2.068,-2.048,-2.028,-2.008,-1.988,-1.968,-1.866,-1.846,-1.826,-1.806,-1.792]],
[.485,[-2.278,-2.258,-2.238,-2.218,-2.198,-2.178,-2.158,-2.138,-2.118,-2.098,-2.078,-2.058,-2.038,-2.018,-1.998,-1.866,-1.846,-1.826,-1.806]],
[.415,[-2.278,-2.258,-2.238,-2.218,-2.198,-2.178,-2.158,-2.138,-2.118,-2.098,-2.078,-2.058,-2.038,-2.018,-1.998,-1.858,-1.838,-1.818,-1.802]],
[.345,[-2.258,-2.238,-2.218,-2.198,-2.178,-2.158,-2.138,-2.118,-2.098,-2.078,-2.058,-2.038,-2.018,-2.002,-1.858,-1.838,-1.818,-1.802]],
[.275,[-2.238,-2.218,-2.198,-2.178,-2.158,-2.138,-2.118,-2.098,-2.078,-2.058,-2.042]],
[.21,[-2.218,-2.198,-2.178,-2.158,-2.138,-2.118,-2.098,-2.078,-2.058]],
[.14,[-2.238,-2.218,-2.198,-2.178,-2.158,-2.138,-2.118,-2.098,-2.078,-2.058]],
[.065,[-2.338,-2.318,-2.298,-2.278,-2.258,-2.238,-2.218,-2.198,-2.178,-2.158,-2.138,-2.118,-2.098,-2.078,-2.058,-2.038,-2.022]],
[0,[-2.458,-2.438,-2.418,-2.398,-2.378,-2.358,-2.338,-2.318,-2.298,-2.278,-2.258,-2.238,-2.218,-2.198,-2.178,-2.158,-2.138,-2.118,-2.098,-2.078,-2.058,-2.038,-2.022]],
[-.075,[-2.468,-2.448,-2.428,-2.408,-2.388,-2.368,-2.348,-2.328,-2.308,-2.288,-2.268,-2.248,-2.228,-2.208,-2.188,-2.168,-2.148,-2.128,-2.108,-2.088,-2.068,-2.048,-2.032]],
[-.145,[-2.468,-2.448,-2.428,-2.408,-2.388,-2.368,-2.348,-2.328,-2.308,-2.288,-2.268,-2.248,-2.228,-2.208,-2.192,-2.138,-2.118,-2.098,-2.078,-2.058,-2.038]],
[-.21,[-2.468,-2.448,-2.428,-2.408,-2.388,-2.368,-2.348,-2.328,-2.308,-2.288,-2.268,-2.252,-2.098,-2.078,-2.056]],
[-.275,[-2.468,-2.448,-2.428,-2.408,-2.388,-2.368,-2.348,-2.328,-2.308,-2.288,-2.272]],
[-.345,[-2.468,-2.448,-2.428,-2.408,-2.388,-2.368,-2.348,-2.328,-2.308,-2.288,-2.272]],
[-.415,[-2.458,-2.438,-2.418,-2.398,-2.378,-2.358,-2.338,-2.318,-2.298,-2.278,-2.258,-2.128,-2.108,-2.088]],
[-.485,[-2.438,-2.418,-2.398,-2.378,-2.358,-2.338,-2.318,-2.298,-2.278,-2.258,-2.238]],
[-.55,[-2.418,-2.398,-2.378,-2.358,-2.338,-2.318,-2.298,-2.278,-2.262]]
];

// the fitted red lines, drawn with the same log10 readings
const fsleLineX = [-1.469, -.784];
const fsleLines = [[.948, 1.923], [.825, 1.717], [.745, 1.560], [.567, 1.269]];
const sstLinesX = [-2.933, -2.661, -2.488, -2.314, -2.169, -1.988, -1.780, -1.506];
const sstLines = [
    [1.253, 1.308, 1.355, 1.416, 1.485, 1.586, 1.722, 1.932],
    [.875, .972, 1.059, 1.163, 1.277, 1.405, 1.580, 1.801],
    [.615, .745, .844, .972, 1.105, 1.284, 1.460, 1.683],
    [.442, .535, .608, .695, .788, .910, 1.059, 1.315]
];

const afcTicks = [0.01, 0.1, 1, 10, 100];
const afcLabels = { "-1": "0.1", "1": "10.0" };
const fsleTicks = [0.1];
const fsleLabels = { "-1": "0.1" };
const sstTicks = [0.001, Math.pow(10, -2.5), 0.01, Math.pow(10, -1.5)];
const sstLabels = { "-3": "0.001", "-2": "0.010" };

function rowsToPoints(rows) {
    const points = [];
    rows.forEach(row => row[1].forEach(x => points.push({ x: 10 ** x, y: 10 ** row[0] })));
    return points;
}

function lineToPoints(xs, ys) {
    return xs.map((x, i) => ({ x: 10 ** x, y: 10 ** ys[i] }));
}

// ggplot style grey panel
const panelBackground = {
    id: "panelBackground",
    beforeDraw(chart) {
        const a = chart.chartArea;
        chart.ctx.fillStyle = "#EBEBEB";
        chart.ctx.fillRect(a.left, a.top, a.right - a.left, a.bottom - a.top);
    }
};

function logAxis(opts) {
    const labelOf = v => opts.labels[String(Math.round(Math.log10(v) * 2) / 2)] || "";
    return {
        type: "logarithmic",
        min: opts.min,
        max: opts.max,
        afterBuildTicks(scale) { scale.ticks = opts.ticks.map(v => ({ value: v })); },
        afterFit(scale) {
            if (opts.width) scale.width = opts.width;
            if (opts.height) scale.height = opts.height;
            // keep the panel where it is, labels may overhang
            scale.paddingTop = scale.paddingBottom = scale.paddingLeft = scale.paddingRight = 0;
        },
        border: { display: false },
        grid: {
            color: "#FFFFFF",
            lineWidth: ctx => labelOf(ctx.tick.value) ? 2 : 1,
            tickLength: 6,
            tickColor: ctx => labelOf(ctx.tick.value) ? "#333333" : "rgba(0,0,0,0)",
            tickWidth: 2
        },
        ticks: {
            autoSkip: false,
            maxRotation: 0,
            padding: opts.tickPadding,
            color: "#4D4D4D",
            font: { family: "'Liberation Sans', Arial, sans-serif", size: 20 },
            callback: v => labelOf(v)
        },
        title: {
            display: true,
            text: opts.title,
            color: "#000000",
            padding: opts.titlePadding,
            font: { family: "'Liberation Sans', Arial, sans-serif", size: opts.titleSize }
        }
    };
}

function makeChart(id, rows, lines, xOpts, yOpts, padding) {
    const datasets = lines.map(l => ({
        type: "line",
        data: l,
        borderColor: "#FF0000",
        borderWidth: 2.6,
        pointRadius: 0,
        fill: false,
        cubicInterpolationMode: "monotone",
        order: 0
    }));
    datasets.push({
        type: "scatter",
        data: rowsToPoints(rows),
        backgroundColor: "#000000",
        borderWidth: 0,
        pointRadius: 4.3,
        order: 1
    });
    return new Chart(document.getElementById(id), {
        data: { datasets },
        plugins: [panelBackground],
        options: {
            responsive: false,
            animation: false,
            layout: { padding },
            plugins: { legend: { display: false }, tooltip: { enabled: false } },
            scales: { x: logAxis(xOpts), y: logAxis(yOpts) }
        }
    });
}

makeChart("fsleChart", fsleRows,
    fsleLines.map(l => lineToPoints(fsleLineX, l)),
    { min: 10 ** -1.503, max: 10 ** -0.75, ticks: fsleTicks, labels: fsleLabels, title: "FSLE (day⁻¹)", titleSize: 26, height: 74, tickPadding: 4, titlePadding: { top: 0, bottom: 2 } },
    { min: 10 ** -2.196, max: 10 ** 2.196, ticks: afcTicks, labels: afcLabels, title: "AFC", titleSize: 26, width: 100, tickPadding: 6, titlePadding: { top: 2, bottom: 0 } },
    { top: 2, right: 33, left: 0, bottom: 0 });

makeChart("sstChart", sstRows,
    sstLines.map(l => lineToPoints(sstLinesX, l)),
    { min: 10 ** -3, max: 10 ** -1.436, ticks: sstTicks, labels: sstLabels, title: "SST grad (deg/km)", titleSize: 27, height: 70, tickPadding: 4, titlePadding: { top: 0, bottom: 2 } },
    { min: 10 ** -2.196, max: 10 ** 2.196, ticks: afcTicks, labels: afcLabels, title: "AFC", titleSize: 26, width: 134, tickPadding: 6, titlePadding: { top: 34, bottom: 0 } },
    { top: 2, right: 1, left: 0, bottom: 0 });
</script>
</body>
</html>
